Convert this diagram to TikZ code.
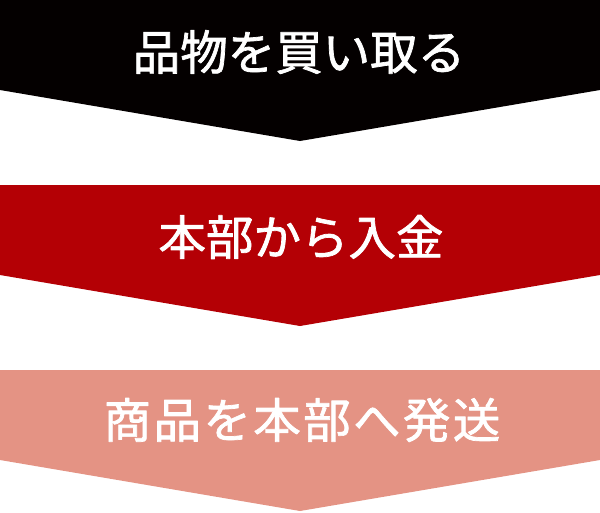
\documentclass[tikz,border=0pt]{standalone}
\usepackage{fontspec}
\newfontfamily\jpfont[FakeBold=1.5]{Noto Sans CJK JP}
\newfontfamily\jpwidefont[FakeBold=1.5,LetterSpace=5]{Noto Sans CJK JP}
\definecolor{stageblack}{HTML}{040000}
\definecolor{stagered}{HTML}{B40005}
\definecolor{stagepink}{HTML}{E49384}

\begin{document}
\begin{tikzpicture}[line cap=round,line join=round,x=1pt,y=-1pt,
  stagetext/.style={text=white,inner sep=0pt,font=\jpfont\fontsize{47.5}{50}\selectfont},
  widetext/.style={stagetext,font=\jpwidefont\fontsize{47.5}{50}\selectfont}]
\useasboundingbox (0,0) rectangle (600,512);
\fill [stageblack] (0,0) -- (600,0) -- (600,90) -- (300,141) -- (0,90) -- cycle;
\fill [stagered] (0,185) -- (600,185) -- (600,275) -- (300,326) -- (0,275) -- cycle;
\fill [stagepink] (0,370) -- (600,370) -- (600,460) -- (300,511) -- (0,460) -- cycle;
\draw (299,52) node[stagetext] (buy) {品物を買い取る};
\draw (301,237) node[stagetext] (pay) {本部から入金};
\draw (302,420) node[widetext] (ship) {商品を本部へ発送};
\end{tikzpicture}
\end{document}
